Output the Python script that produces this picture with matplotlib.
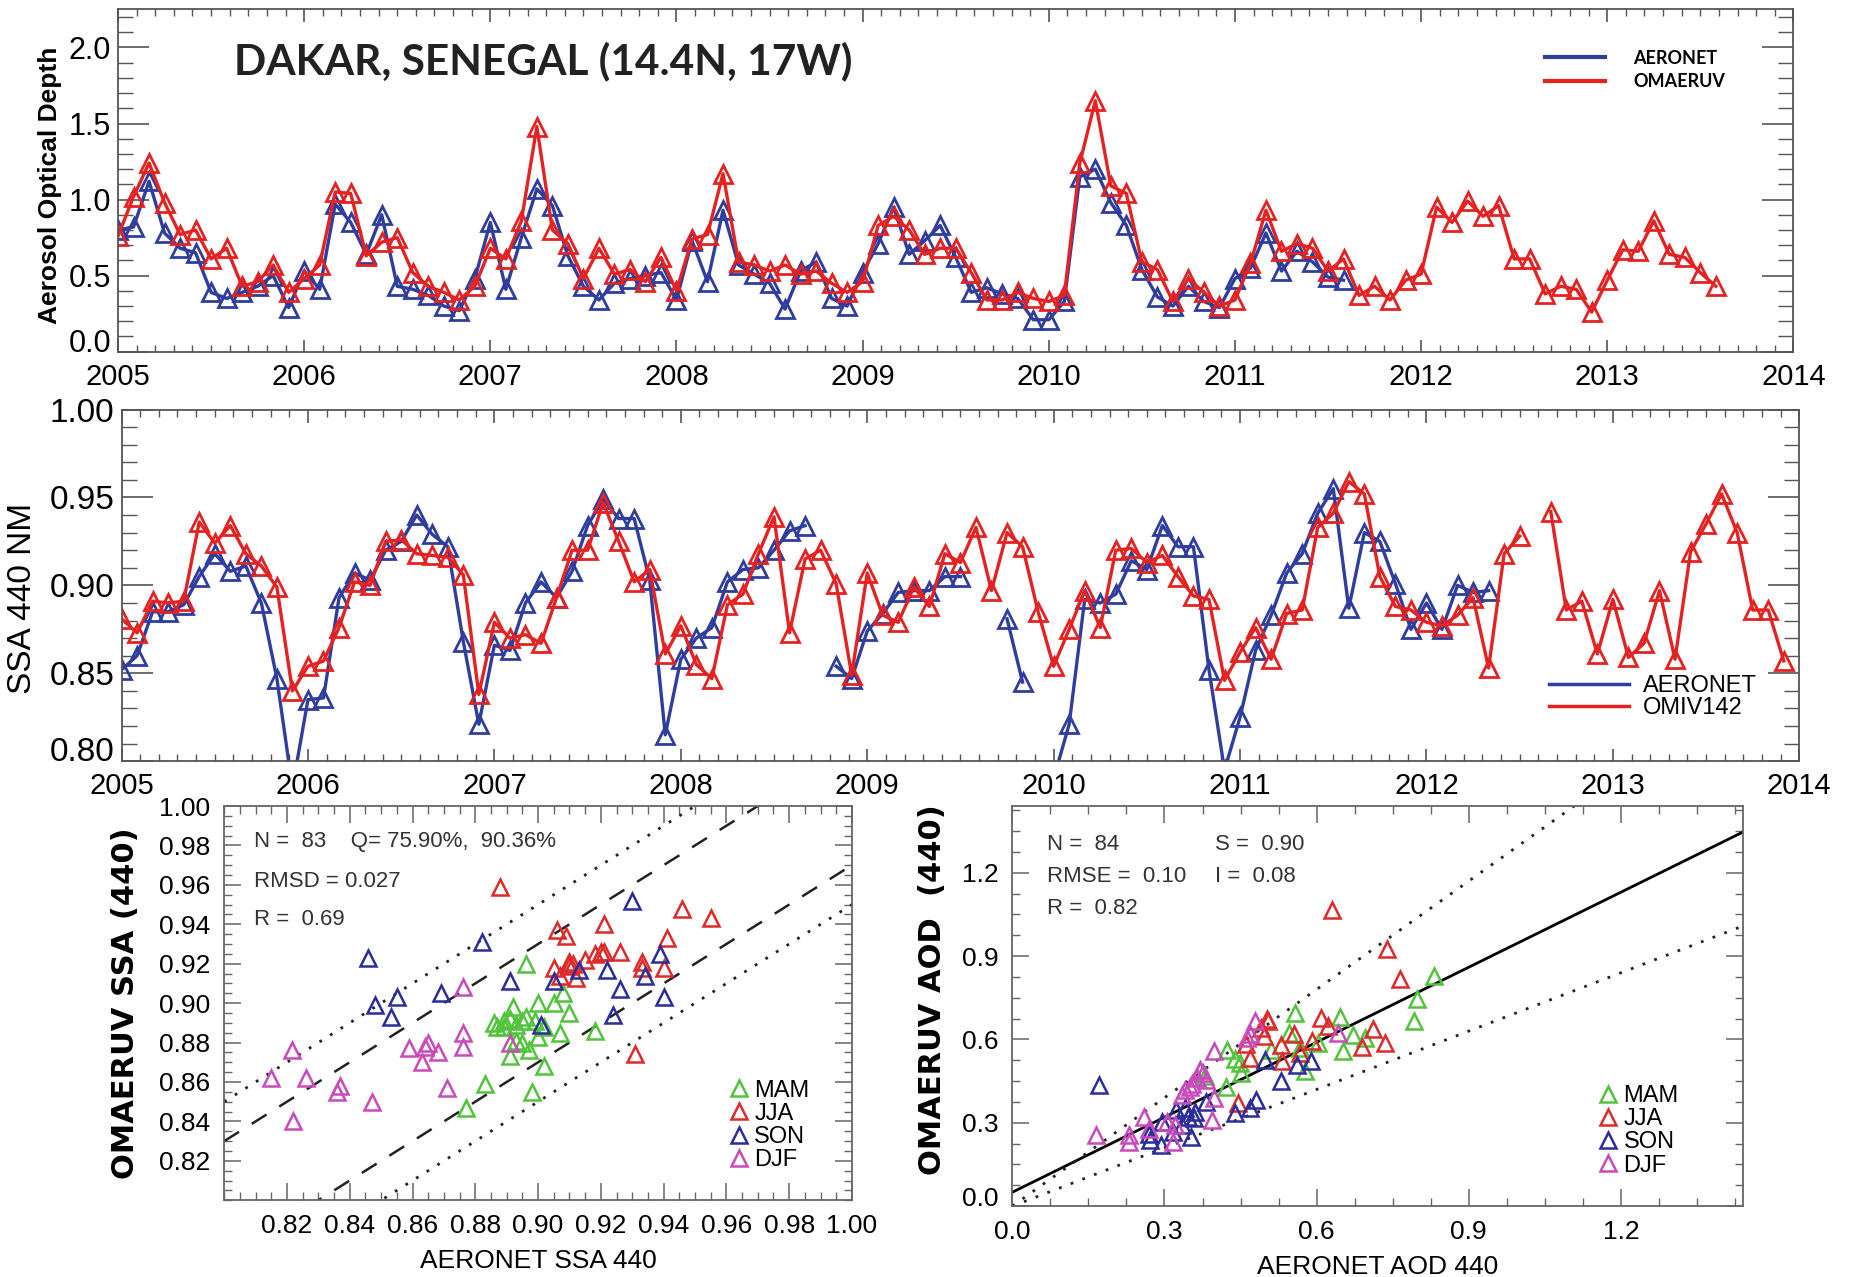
import numpy as np
import matplotlib
matplotlib.use('Agg')
from matplotlib import pyplot as plt
from matplotlib.ticker import MultipleLocator
from matplotlib.lines import Line2D

# ---- monthly time series (first value = Jan 2005) ----
aod_omaeruv = [0.76, 1.02, 1.24, 0.98, 0.77, 0.80, 0.61, 0.68, 0.43, 0.46, 0.57, 0.39,
               0.48, 0.57, 1.05, 1.04, 0.63, 0.72, 0.75, 0.52, 0.43, 0.39, 0.34, 0.43,
               0.68, 0.61, 0.86, 1.48, 0.80, 0.71, 0.48, 0.68, 0.51, 0.54, 0.46, 0.62,
               0.40, 0.74, 0.77, 1.17, 0.59, 0.57, 0.53, 0.57, 0.51, 0.53, 0.45, 0.39,
               0.46, 0.83, 0.89, 0.80, 0.64, 0.68, 0.68, 0.52, 0.34, 0.34, 0.39, 0.35,
               0.33, 0.37, 1.24, 1.65, 1.09, 1.04, 0.59, 0.54, 0.33, 0.48, 0.39, 0.30,
               0.34, 0.58, 0.93, 0.66, 0.71, 0.68, 0.53, 0.61, 0.37, 0.43, 0.34, 0.47,
               0.51, 0.95, 0.85, 0.99, 0.89, 0.96, 0.61, 0.61, 0.38, 0.43, 0.41, 0.26,
               0.47, 0.67, 0.66, 0.86, 0.64, 0.62, 0.52, 0.43]
aod_aeronet = [0.80, 0.82, 1.12, 0.78, 0.68, 0.65, 0.39, 0.35, 0.39, 0.43, 0.50, 0.29,
               0.53, 0.41, 0.97, 0.85, 0.64, 0.90, 0.43, 0.41, 0.37, 0.30, 0.27, 0.48,
               0.85, 0.41, 0.75, 1.07, 0.96, 0.63, 0.43, 0.34, 0.45, 0.48, 0.50, 0.52,
               0.34, 0.73, 0.46, 0.93, 0.57, 0.51, 0.45, 0.28, 0.53, 0.59, 0.35, 0.30,
               0.52, 0.71, 0.95, 0.64, 0.73, 0.83, 0.62, 0.39, 0.42, 0.38, 0.35, 0.21,
               0.21, 0.33, 1.15, 1.20, 0.98, 0.83, 0.54, 0.36, 0.30, 0.43, 0.33, 0.29,
               0.48, 0.55, 0.78, 0.53, 0.66, 0.59, 0.49, 0.47]

ssa_omi = [0.881, 0.873, 0.891, 0.890, 0.891, 0.936, 0.924, 0.934, 0.918, 0.911, 0.899, 0.840,
           0.854, 0.857, 0.876, 0.902, 0.900, 0.925, 0.926, 0.918, 0.917, 0.916, 0.906, 0.838,
           0.879, 0.870, 0.872, 0.867, 0.893, 0.920, 0.920, 0.947, 0.925, 0.902, 0.909, 0.861,
           0.877, 0.855, 0.847, 0.889, 0.895, 0.918, 0.939, 0.873, 0.915, 0.920, 0.901, 0.849,
           0.907, 0.883, 0.879, 0.899, 0.888, 0.918, 0.913, 0.933, 0.897, 0.930, 0.922, 0.885,
           0.854, 0.875, 0.897, 0.876, 0.920, 0.921, 0.913, 0.917, 0.905, 0.894, 0.892, 0.846,
           0.862, 0.876, 0.858, 0.884, 0.886, 0.933, 0.941, 0.959, 0.952, 0.905, 0.888, 0.886,
           0.879, 0.877, 0.883, 0.893, 0.853, 0.918, 0.928, None, 0.942, 0.886, 0.891, 0.861,
           0.892, 0.859, 0.867, 0.897, 0.858, 0.919, 0.935, 0.952, 0.930, 0.886, 0.886, 0.857]
ssa_aeronet = [0.852, 0.860, 0.885, 0.885, 0.889, 0.905, 0.918, 0.908, 0.911, 0.890, 0.847, 0.785,
               0.835, 0.836, 0.893, 0.907, 0.903, 0.920, 0.925, 0.940, 0.929, 0.922, 0.868, 0.821,
               0.866, 0.863, 0.890, 0.902, 0.893, 0.908, 0.934, 0.949, 0.938, 0.938, 0.903, 0.815,
               0.858, 0.870, 0.876, 0.902, 0.909, 0.910, 0.920, 0.931, 0.934, None, 0.854, 0.847,
               0.874, 0.884, 0.896, 0.897, 0.897, 0.905, 0.905, None, None, 0.881, 0.845, None,
               0.790, 0.821, 0.892, 0.890, 0.895, 0.914, 0.909, 0.934, 0.922, 0.922, 0.852, 0.795,
               0.825, 0.863, 0.883, 0.907, 0.918, 0.941, 0.955, 0.887, 0.930, 0.925, 0.901, 0.875,
               0.890, 0.875, 0.900, 0.896, 0.897]

# ---- scatter: SSA (AERONET, OMAERUV) by season ----
ssa_mam_x = [0.896, 0.886, 0.887, 0.891, 0.892, 0.895, 0.896, 0.893, 0.895, 0.891, 0.900, 0.900,
             0.905, 0.908, 0.910, 0.907, 0.902, 0.902, 0.898, 0.883, 0.877, 0.918, 0.889, 0.889,
             0.899, 0.897, 0.893]
ssa_mam_y = [0.920, 0.890, 0.888, 0.892, 0.898, 0.891, 0.893, 0.881, 0.880, 0.873, 0.900, 0.883,
             0.900, 0.905, 0.895, 0.885, 0.888, 0.868, 0.855, 0.859, 0.847, 0.886, 0.888, 0.891,
             0.891, 0.876, 0.889]
ssa_jja_x = [0.888, 0.906, 0.909, 0.905, 0.910, 0.911, 0.907, 0.912, 0.915, 0.920, 0.921, 0.921,
             0.926, 0.933, 0.933, 0.931, 0.940, 0.941, 0.946, 0.955, 0.910, 0.918]
ssa_jja_y = [0.959, 0.937, 0.934, 0.918, 0.919, 0.920, 0.914, 0.913, 0.922, 0.926, 0.940, 0.926,
             0.926, 0.921, 0.918, 0.874, 0.918, 0.933, 0.948, 0.943, 0.921, 0.925]
ssa_son_x = [0.8457, 0.848, 0.855, 0.853, 0.869, 0.882, 0.891, 0.901, 0.905, 0.913, 0.922, 0.926,
             0.924, 0.930, 0.934, 0.939, 0.940]
ssa_son_y = [0.923, 0.899, 0.903, 0.893, 0.905, 0.931, 0.911, 0.889, 0.911, 0.917, 0.917, 0.907,
             0.894, 0.952, 0.914, 0.925, 0.903]
ssa_djf_x = [0.8216, 0.815, 0.826, 0.822, 0.836, 0.837, 0.847, 0.859, 0.863, 0.864, 0.865, 0.871,
             0.876, 0.876, 0.876, 0.891, 0.868]
ssa_djf_y = [0.876, 0.862, 0.862, 0.840, 0.855, 0.858, 0.850, 0.877, 0.870, 0.878, 0.880, 0.857,
             0.878, 0.885, 0.908, 0.880, 0.875]

# ---- scatter: AOD (AERONET, OMAERUV) by season ----
aod_mam_x = [0.832, 0.798, 0.792, 0.647, 0.651, 0.672, 0.695, 0.558, 0.546, 0.510, 0.577, 0.567,
             0.448, 0.450, 0.424, 0.421, 0.370, 0.603, 0.380, 0.440]
aod_mam_y = [0.830, 0.745, 0.666, 0.681, 0.557, 0.615, 0.606, 0.696, 0.624, 0.563, 0.487, 0.570,
             0.515, 0.479, 0.563, 0.430, 0.491, 0.588, 0.470, 0.530]
aod_jja_x = [0.630, 0.738, 0.764, 0.734, 0.711, 0.690, 0.609, 0.623, 0.555, 0.567, 0.531, 0.496,
             0.502, 0.505, 0.469, 0.445, 0.460, 0.591, 0.490, 0.530]
aod_jja_y = [1.065, 0.926, 0.817, 0.588, 0.636, 0.572, 0.678, 0.648, 0.618, 0.551, 0.521, 0.612,
             0.672, 0.666, 0.533, 0.370, 0.582, 0.594, 0.640, 0.580]
aod_son_x = [0.171, 0.272, 0.293, 0.296, 0.322, 0.352, 0.316, 0.346, 0.358, 0.382, 0.439, 0.469,
             0.480, 0.529, 0.499, 0.561, 0.589, 0.334, 0.340, 0.360, 0.270]
aod_son_y = [0.437, 0.237, 0.221, 0.304, 0.346, 0.249, 0.267, 0.322, 0.316, 0.376, 0.334, 0.352,
             0.382, 0.449, 0.527, 0.509, 0.524, 0.291, 0.352, 0.340, 0.260]
aod_djf_x = [0.164, 0.230, 0.230, 0.260, 0.269, 0.316, 0.320, 0.334, 0.350, 0.364, 0.376, 0.382,
             0.397, 0.394, 0.397, 0.463, 0.469, 0.478, 0.642, 0.340, 0.305, 0.355, 0.370]
aod_djf_y = [0.255, 0.255, 0.231, 0.322, 0.279, 0.231, 0.291, 0.400, 0.430, 0.461, 0.479, 0.455,
             0.388, 0.310, 0.557, 0.606, 0.618, 0.666, 0.624, 0.418, 0.304, 0.440, 0.490]

aod_fit_slope = 0.90
aod_fit_intercept = 0.05

BLUE = '#2f3d9f'
RED = '#e52222'
season_colors = {'MAM': '#52c43c', 'JJA': '#dd2b2b', 'SON': '#2b2d9c', 'DJF': '#c94bbb'}
HELV = ['Liberation Sans', 'DejaVu Sans']
NARROW = ['Liberation Sans Narrow', 'Liberation Sans', 'DejaVu Sans']


def months(values, start=2005.0):
    x = start + np.arange(len(values)) / 12.0
    y = np.array([np.nan if v is None else v for v in values], dtype=float)
    return x, y


def style_timeseries(ax, ylim, yticks, ylabels, yminor, ysize):
    ax.set_xlim(2005, 2014)
    ax.set_ylim(*ylim)
    ax.set_xticks(range(2005, 2015))
    ax.set_xticklabels([str(y) for y in range(2005, 2015)], family=HELV, fontsize=21)
    ax.xaxis.set_minor_locator(MultipleLocator(0.1))
    ax.set_yticks(yticks)
    ax.set_yticklabels(ylabels, family=HELV, fontsize=ysize)
    ax.yaxis.set_minor_locator(MultipleLocator(yminor))
    ax.tick_params(which='both', direction='in', top=True, right=True, color='#555555')
    ax.tick_params(axis='x', which='major', length=9, width=1.2, pad=8)
    ax.tick_params(axis='x', which='minor', length=5, width=1)
    ax.tick_params(axis='y', which='major', length=22, width=1.2, pad=5)
    ax.tick_params(axis='y', which='minor', length=11, width=1)
    ax.get_yticklabels()[0].set_va('baseline')
    for s in ax.spines.values():
        s.set_color('#555555')
        s.set_linewidth(1.3)


fig = plt.figure(figsize=(18.5, 12.77), dpi=100)

# ---------------- top: AOD time series ----------------
ax1 = fig.add_axes([0.0638, 0.7246, 0.9056, 0.268])
x, y = months(aod_aeronet)
ax1.plot(x, y, color=BLUE, lw=2.4, marker='^', ms=13, mfc='none', mew=2)
x, y = months(aod_omaeruv)
ax1.plot(x, y, color=RED, lw=2.4, marker='^', ms=13, mfc='none', mew=2)
style_timeseries(ax1, (0, 2.25), [0, 0.5, 1.0, 1.5, 2.0], ['0.0', '0.5', '1.0', '1.5', '2.0'], 0.1, 22)
ax1.text(0.069, 0.848, 'DAKAR, SENEGAL (14.4N, 17W)', transform=ax1.transAxes,
         fontsize=30.5, fontweight='bold', family=['Lato', 'DejaVu Sans'], va='center', color='#222222')
ax1.legend([Line2D([], [], color=BLUE, lw=3), Line2D([], [], color=RED, lw=3)],
           ['AERONET', 'OMAERUV'], loc='upper left', bbox_to_anchor=(0.842, 0.93),
           frameon=False, handlelength=3.3, handletextpad=1.6, labelspacing=0.35,
           prop={'family': ['Lato', 'DejaVu Sans'], 'weight': 'bold', 'size': 13})
fig.text(0.027, 0.855, 'Aerosol Optical Depth', rotation=90, va='center', ha='center',
         fontsize=19, fontweight='bold', family=HELV)

# ---------------- middle: SSA time series ----------------
ax2 = fig.add_axes([0.0657, 0.4039, 0.9069, 0.2754])
x, y = months(ssa_aeronet)
ax2.plot(x, y, color=BLUE, lw=2.4, marker='^', ms=13, mfc='none', mew=2)
x, y = months(ssa_omi)
ax2.plot(x, y, color=RED, lw=2.4, marker='^', ms=13, mfc='none', mew=2)
style_timeseries(ax2, (0.80, 1.00), [0.80, 0.85, 0.90, 0.95, 1.00],
                 ['0.80', '0.85', '0.90', '0.95', '1.00'], 0.01, 24)
ax2.legend([Line2D([], [], color=BLUE, lw=2.5), Line2D([], [], color=RED, lw=2.5)],
           ['AERONET', 'OMIV142'], loc='lower left', bbox_to_anchor=(0.838, 0.06),
           frameon=False, handlelength=3.4, handletextpad=0.6, labelspacing=0.0,
           prop={'family': HELV, 'size': 17})
fig.text(0.012, 0.531, 'SSA 440 NM', rotation=90, va='center', ha='center',
         fontsize=24, family=HELV)


def style_scatter(ax, lim, ticks, labels, minor):
    ax.set_xlim(*lim)
    ax.set_ylim(*lim)
    ax.set_xticks(ticks)
    ax.set_xticklabels(labels, family=NARROW, fontsize=19)
    ax.set_yticks(ticks)
    ax.set_yticklabels(labels, family=NARROW, fontsize=19)
    ax.xaxis.set_minor_locator(MultipleLocator(minor))
    ax.yaxis.set_minor_locator(MultipleLocator(minor))
    ax.tick_params(which='both', direction='in', top=True, right=True, color='#666666')
    ax.tick_params(which='major', length=12, width=1.1, pad=10)
    ax.tick_params(which='minor', length=6, width=1)
    for s in ax.spines.values():
        s.set_color('#666666')
        s.set_linewidth(1.3)


def season_scatter(ax, data):
    handles = []
    for name, xs, ys in data:
        h, = ax.plot(xs, ys, ls='none', marker='^', ms=11.5, mfc='none', mew=1.8,
                     color=season_colors[name], label=name)
        handles.append(h)
    ax.legend(handles, [d[0] for d in data], loc='lower left', bbox_to_anchor=(0.79, 0.05),
              frameon=False, handlelength=0.8, handletextpad=0.25, labelspacing=0.05,
              borderaxespad=0, prop={'family': NARROW, 'size': 17})


# ---------------- bottom left: SSA scatter ----------------
ax3 = fig.add_axes([0.1212, 0.0601, 0.3393, 0.3087])
style_scatter(ax3, (0.80, 1.00), np.arange(0.82, 1.001, 0.02),
              ['%.2f' % v for v in np.arange(0.82, 1.001, 0.02)], 0.005)
xl = np.linspace(0.80, 1.00, 50)
for off in (0.03, -0.03):
    ax3.plot(xl, xl + off, color='#222222', lw=1.8, ls=(0, (7, 6)))
for off in (0.05, -0.05):
    ax3.plot(xl, xl + off, color='#222222', lw=2, ls=(0, (1, 3.5)))
season_scatter(ax3, [('MAM', ssa_mam_x, ssa_mam_y), ('JJA', ssa_jja_x, ssa_jja_y),
                     ('SON', ssa_son_x, ssa_son_y), ('DJF', ssa_djf_x, ssa_djf_y)])
stat_font = {'family': NARROW, 'size': 16, 'color': '#333333'}
ax3.text(0.047, 0.91, 'N =  83    Q= 75.90%,  90.36%', transform=ax3.transAxes, va='center', **stat_font)
ax3.text(0.047, 0.808, 'RMSD = 0.027', transform=ax3.transAxes, va='center', **stat_font)
ax3.text(0.047, 0.713, 'R =  0.69', transform=ax3.transAxes, va='center', **stat_font)
ax3.set_xlabel('AERONET SSA 440', family=NARROW, fontsize=19, labelpad=8)
ax3.set_ylabel('OMAERUV SSA (440)', fontsize=22, fontweight='bold',
               family=['DejaVu Sans'], labelpad=14)

# ---------------- bottom right: AOD scatter ----------------
ax4 = fig.add_axes([0.5472, 0.0555, 0.3948, 0.3133])
style_scatter(ax4, (0.0, 1.44), [0.0, 0.3, 0.6, 0.9, 1.2], ['0.0', '0.3', '0.6', '0.9', '1.2'], 0.075)
ax4.get_yticklabels()[0].set_va('baseline')
xl = np.linspace(0.0, 1.44, 50)
ax4.plot(xl, aod_fit_slope * xl + aod_fit_intercept, color='black', lw=2)
ax4.plot(xl, 1.3 * xl, color='#222222', lw=2, ls=(0, (1, 3.5)))
ax4.plot(xl, 0.7 * xl, color='#222222', lw=2, ls=(0, (1, 3.5)))
season_scatter(ax4, [('MAM', aod_mam_x, aod_mam_y), ('JJA', aod_jja_x, aod_jja_y),
                     ('SON', aod_son_x, aod_son_y), ('DJF', aod_djf_x, aod_djf_y)])
ax4.text(0.048, 0.905, 'N =  84', transform=ax4.transAxes, va='center', **stat_font)
ax4.text(0.277, 0.905, 'S =  0.90', transform=ax4.transAxes, va='center', **stat_font)
ax4.text(0.048, 0.825, 'RMSE =  0.10', transform=ax4.transAxes, va='center', **stat_font)
ax4.text(0.277, 0.825, 'I =  0.08', transform=ax4.transAxes, va='center', **stat_font)
ax4.text(0.048, 0.745, 'R =  0.82', transform=ax4.transAxes, va='center', **stat_font)
ax4.set_xlabel('AERONET AOD 440', family=NARROW, fontsize=19, labelpad=8)
ax4.set_ylabel('OMAERUV AOD  (440)', fontsize=22, fontweight='bold',
               family=['DejaVu Sans'], labelpad=12)
ax4.yaxis.set_label_coords(-0.09, 0.54)

plt.savefig('out.png', dpi=100)
